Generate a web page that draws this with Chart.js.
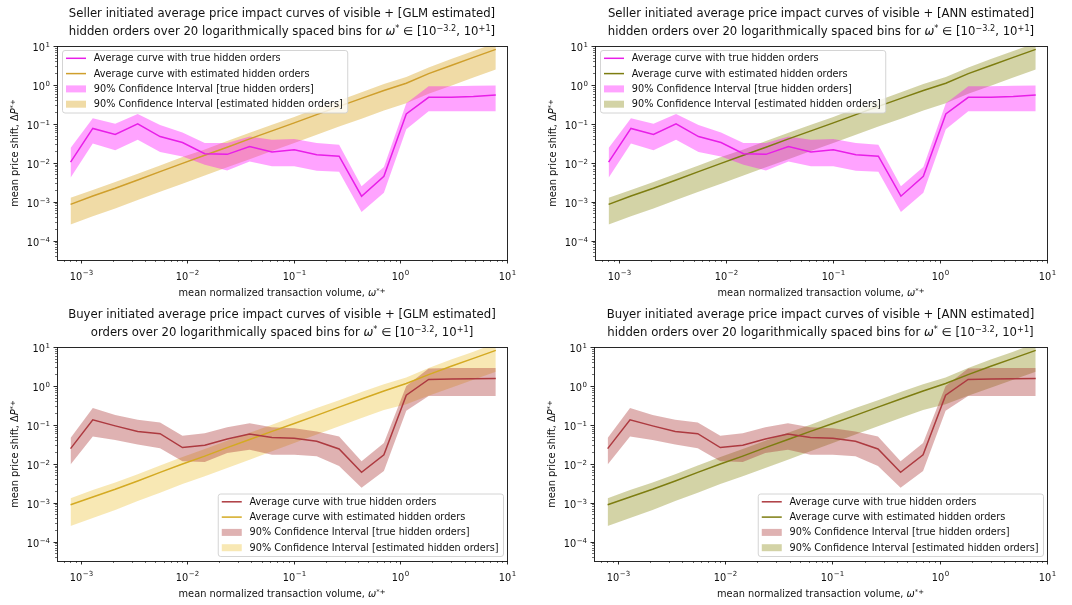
<!DOCTYPE html>
<html>
<head>
<meta charset="utf-8">
<script src="https://cdn.jsdelivr.net/npm/chart.js@4/dist/chart.umd.min.js"></script>
<style>
  body { margin: 0; background: #fff; }
  #fig { position: relative; width: 1072px; height: 605px; overflow: hidden; font-family: "DejaVu Sans", sans-serif; color: #111; }
  canvas { position: absolute; }
  .title { position: absolute; text-align: center; font-size: 11.7px; line-height: 18px; white-space: nowrap; }
  .xlab, .ylab { position: absolute; text-align: center; font-size: 9.8px; line-height: 14px; white-space: nowrap; }
  .ylab { transform: rotate(-90deg); }
  sup { font-size: 0.7em; vertical-align: 0.5em; line-height: 0; }
</style>
</head>
<body>
<div id="fig"></div>
<script>
// ================= DATA =================
// bin centres (20 log spaced bins on [10^-3.2, 10^1])
const binCenters = [0.000804, 0.0013, 0.00211, 0.00343, 0.00556, 0.00902, 0.0146, 0.0237, 0.0385, 0.0624,
                    0.101, 0.164, 0.266, 0.432, 0.70, 1.135, 1.84, 2.99, 4.84, 7.85];

// seller initiated
const sellerTrue      = [0.0104, 0.076, 0.053, 0.10, 0.047, 0.033, 0.017, 0.0164, 0.026, 0.019,
                         0.0216, 0.016, 0.0147, 0.00138, 0.0045, 0.18, 0.48, 0.48, 0.50, 0.55];
const sellerTrueUpper = [0.024, 0.14, 0.10, 0.18, 0.093, 0.06, 0.032, 0.032, 0.047, 0.039,
                         0.041, 0.032, 0.029, 0.0025, 0.0078, 0.34, 0.92, 0.93, 0.95, 0.97];
const sellerTrueLower = [0.0041, 0.031, 0.021, 0.039, 0.019, 0.0145, 0.0089, 0.0063, 0.0107, 0.0081,
                         0.0081, 0.0062, 0.0059, 0.00054, 0.0017, 0.072, 0.21, 0.21, 0.21, 0.21];
const sellerEst       = [0.00085, 0.0014, 0.0022, 0.0036, 0.0059, 0.0096, 0.0155, 0.025, 0.041, 0.066,
                         0.106, 0.172, 0.28, 0.45, 0.72, 1.1, 1.95, 3.15, 5.1, 8.2];
const sellerEstUpper  = [0.00125, 0.002, 0.0032, 0.0052, 0.0085, 0.014, 0.022, 0.036, 0.059, 0.095,
                         0.15, 0.25, 0.40, 0.65, 1.05, 1.6, 2.8, 4.6, 7.4, 12];
const sellerEstLower  = [0.00026, 0.00042, 0.00067, 0.0011, 0.0018, 0.0029, 0.0047, 0.0076, 0.0123, 0.02,
                         0.032, 0.052, 0.085, 0.135, 0.22, 0.34, 0.59, 0.95, 1.55, 2.5];

// buyer initiated
const buyerTrue       = [0.0244, 0.134, 0.094, 0.067, 0.059, 0.026, 0.030, 0.043, 0.058, 0.047,
                         0.045, 0.0376, 0.024, 0.006, 0.017, 0.58, 1.47, 1.50, 1.52, 1.55];
const buyerTrueUpper  = [0.046, 0.27, 0.18, 0.134, 0.115, 0.052, 0.061, 0.087, 0.11, 0.087,
                         0.082, 0.067, 0.05, 0.0115, 0.034, 1.0, 2.8, 2.9, 2.9, 2.9];
const buyerTrueLower  = [0.0095, 0.05, 0.041, 0.031, 0.025, 0.0115, 0.011, 0.019, 0.023, 0.017,
                         0.017, 0.0155, 0.0087, 0.0024, 0.0065, 0.23, 0.55, 0.55, 0.55, 0.55];
const buyerEst        = [0.00088, 0.0014, 0.0022, 0.0036, 0.006, 0.0098, 0.0157, 0.026, 0.042, 0.068,
                         0.108, 0.175, 0.285, 0.46, 0.74, 1.15, 1.95, 3.2, 5.1, 8.2];
const buyerEstUpper   = [0.0013, 0.0021, 0.0033, 0.0054, 0.009, 0.015, 0.024, 0.039, 0.063, 0.10,
                         0.165, 0.27, 0.43, 0.7, 1.1, 1.65, 2.9, 4.8, 7.6, 12.5];
const buyerEstLower   = [0.00025, 0.0004, 0.00065, 0.0011, 0.0018, 0.003, 0.0048, 0.0078, 0.0127, 0.021,
                         0.034, 0.056, 0.092, 0.15, 0.24, 0.34, 0.56, 0.9, 1.45, 2.3];

const legendLabels = [
  "Average curve with true hidden orders",
  "Average curve with estimated hidden orders",
  "90% Confidence Interval [true hidden orders]",
  "90% Confidence Interval [estimated hidden orders]"
];

// ================= PANELS =================
const omegaRange = 'for <i>ω</i><sup>*</sup> ∈ [10<sup>−3.2</sup>, 10<sup>+1</sup>]';
const panels = [
  { l: 57, t: 46, r: 507, b: 260, corner: 'tl',
    title: ['Seller initiated average price impact curves of visible + [GLM estimated]',
            'hidden orders over 20 logarithmically spaced bins ' + omegaRange],
    tr: sellerTrue, trU: sellerTrueUpper, trL: sellerTrueLower,
    es: sellerEst, esU: sellerEstUpper, esL: sellerEstLower,
    trColor: '#e81ee8', trFill: 'rgba(255,0,255,0.36)',
    esColor: '#cf9f2c', esFill: 'rgba(218,165,32,0.4)' },
  { l: 595, t: 46, r: 1047, b: 260, corner: 'tl',
    title: ['Seller initiated average price impact curves of visible + [ANN estimated]',
            'hidden orders over 20 logarithmically spaced bins ' + omegaRange],
    tr: sellerTrue, trU: sellerTrueUpper, trL: sellerTrueLower,
    es: sellerEst, esU: sellerEstUpper, esL: sellerEstLower,
    trColor: '#e81ee8', trFill: 'rgba(255,0,255,0.36)',
    esColor: '#7d7d10', esFill: 'rgba(128,128,0,0.35)' },
  { l: 57, t: 347, r: 507, b: 561, corner: 'br',
    title: ['Buyer initiated average price impact curves of visible + [GLM estimated]',
            'orders over 20 logarithmically spaced bins ' + omegaRange],
    tr: buyerTrue, trU: buyerTrueUpper, trL: buyerTrueLower,
    es: buyerEst, esU: buyerEstUpper, esL: buyerEstLower,
    trColor: '#ad3a40', trFill: 'rgba(165,42,42,0.36)',
    esColor: '#d4aa22', esFill: 'rgba(235,190,40,0.35)' },
  { l: 594, t: 347, r: 1047, b: 561, corner: 'br',
    title: ['Buyer initiated average price impact curves of visible + [ANN estimated]',
            'hidden orders over 20 logarithmically spaced bins ' + omegaRange],
    tr: buyerTrue, trU: buyerTrueUpper, trL: buyerTrueLower,
    es: buyerEst, esU: buyerEstUpper, esL: buyerEstLower,
    trColor: '#ad3a40', trFill: 'rgba(165,42,42,0.36)',
    esColor: '#7d7d10', esFill: 'rgba(128,128,0,0.35)' }
];

// ================= HELPERS =================
function isPow10(v) {
  const e = Math.log10(v);
  return Math.abs(e - Math.round(e)) < 1e-9;
}
function logTicks(min, max) {
  const out = [];
  for (let e = -6; e <= 2; e++) {
    for (let m = 1; m <= 9; m++) {
      const v = parseFloat((m * Math.pow(10, e)).toPrecision(6));
      if (v >= min * 0.9999 && v <= max * 1.0001) out.push({ value: v });
    }
  }
  return out;
}
function pts(ys) {
  return binCenters.map((x, i) => ({ x: x, y: ys[i] }));
}

// "10" + raised exponent, like matplotlib mathtext
const BASE_FONT = '9.8px "DejaVu Sans"';
const EXP_FONT = '7px "DejaVu Sans"';
function powText(ctx, v, x, y, align) {
  const exp = String(Math.round(Math.log10(v))).replace('-', '−');
  ctx.font = BASE_FONT;
  const wb = ctx.measureText('10').width;
  ctx.font = EXP_FONT;
  const we = ctx.measureText(exp).width;
  const w = wb + we + 0.5;
  let x0 = align === 'center' ? x - w / 2 : x - w;
  ctx.textAlign = 'left';
  ctx.textBaseline = 'alphabetic';
  ctx.font = BASE_FONT;
  ctx.fillText('10', x0, y);
  ctx.font = EXP_FONT;
  ctx.fillText(exp, x0 + wb + 0.5, y - 4.6);
}

// ================= PLUGINS =================
const frameTicks = {
  id: 'frameTicks',
  afterDatasetsDraw(chart) {
    const { ctx, chartArea: a, scales } = chart;
    ctx.save();
    ctx.strokeStyle = '#111';
    ctx.fillStyle = '#111';
    scales.x.ticks.forEach(t => {
      const px = Math.round(scales.x.getPixelForValue(t.value)) + 0.5;
      const major = isPow10(t.value);
      ctx.lineWidth = major ? 0.9 : 0.6;
      ctx.beginPath();
      ctx.moveTo(px, a.bottom);
      ctx.lineTo(px, a.bottom + (major ? 3.5 : 2));
      ctx.stroke();
      if (major) powText(ctx, t.value, px, a.bottom + 19.5, 'center');
    });
    scales.y.ticks.forEach(t => {
      const py = Math.round(scales.y.getPixelForValue(t.value)) + 0.5;
      const major = isPow10(t.value);
      ctx.lineWidth = major ? 0.9 : 0.6;
      ctx.beginPath();
      ctx.moveTo(a.left, py);
      ctx.lineTo(a.left - (major ? 3.5 : 2), py);
      ctx.stroke();
      if (major) powText(ctx, t.value, a.left - 7, py + 4.8, 'right');
    });
    ctx.lineWidth = 0.9;
    ctx.strokeRect(Math.round(a.left) + 0.5, Math.round(a.top) + 0.5,
                   Math.round(a.right - a.left), Math.round(a.bottom - a.top));
    ctx.restore();
  }
};

const boxLegend = {
  id: 'boxLegend',
  afterDraw(chart, args, opts) {
    const { ctx, chartArea: a } = chart;
    const fs = 9.7, rowH = 15.3, pad = 8.3;
    const items = chart.data.datasets.filter(d => d.label);
    ctx.save();
    ctx.font = fs + 'px "DejaVu Sans"';
    const textW = Math.max(...items.map(d => ctx.measureText(d.label).width));
    const w = 4 + 20 + 7.8 + textW + 4.5;
    const h = pad * 2 + (items.length - 1) * rowH;
    let x0, y0;
    if (opts.corner === 'tl') { x0 = a.left + 5; y0 = a.top + 4; }
    else { x0 = a.right - 4 - w; y0 = a.bottom - 5 - h; }
    ctx.beginPath();
    ctx.roundRect(x0 + 0.5, y0 + 0.5, w, h, 2.5);
    ctx.fillStyle = 'rgba(255,255,255,0.8)';
    ctx.fill();
    ctx.strokeStyle = '#cfcfcf';
    ctx.lineWidth = 0.9;
    ctx.stroke();
    items.forEach((d, i) => {
      const cy = y0 + pad + i * rowH;
      if (d.fill) {
        ctx.fillStyle = d.backgroundColor;
        ctx.fillRect(x0 + 4, cy - 3.5, 20, 7);
      } else {
        ctx.strokeStyle = d.borderColor;
        ctx.lineWidth = 1.5;
        ctx.beginPath();
        ctx.moveTo(x0 + 4, cy);
        ctx.lineTo(x0 + 24, cy);
        ctx.stroke();
      }
      ctx.fillStyle = '#111';
      ctx.textBaseline = 'middle';
      ctx.fillText(d.label, x0 + 31.8, cy + 0.5);
    });
    ctx.restore();
  }
};

// ================= BUILD =================
const fig = document.getElementById('fig');
const X_MIN = Math.pow(10, -3.2), X_MAX = 10;
const Y_MIN = Math.pow(10, -4.5), Y_MAX = 10;

panels.forEach((p, k) => {
  const padL = 4, padT = 8, padR = 12, padB = 4, yW = 50, xH = 24;
  const cv = document.createElement('canvas');
  const cw = (p.r - p.l) + padL + yW + padR;
  const ch = (p.b - p.t) + padT + xH + padB;
  cv.width = cw; cv.height = ch;
  cv.style.left = (p.l - padL - yW) + 'px';
  cv.style.top = (p.t - padT) + 'px';
  cv.style.width = cw + 'px'; cv.style.height = ch + 'px';
  fig.appendChild(cv);

  const title = document.createElement('div');
  title.className = 'title';
  title.style.left = (p.l - 40) + 'px';
  title.style.width = (p.r - p.l + 80) + 'px';
  title.style.top = (p.t - 42) + 'px';
  title.innerHTML = p.title.join('<br>');
  fig.appendChild(title);

  const xl = document.createElement('div');
  xl.className = 'xlab';
  xl.style.left = p.l + 'px';
  xl.style.width = (p.r - p.l) + 'px';
  xl.style.top = (p.b + 25.5) + 'px';
  xl.innerHTML = 'mean normalized transaction volume, <i>ω</i><sup>*+</sup>';
  fig.appendChild(xl);

  const yl = document.createElement('div');
  yl.className = 'ylab';
  const yw = p.b - p.t;
  yl.style.width = yw + 'px';
  yl.style.height = '14px';
  yl.style.left = (p.l - 42 - yw / 2) + 'px';
  yl.style.top = ((p.t + p.b) / 2 - 7) + 'px';
  yl.innerHTML = 'mean price shift, Δ<i>P</i><sup>*+</sup>';
  fig.appendChild(yl);

  const line = (label, ys, color) => ({
    label: label, data: pts(ys), borderColor: color, borderWidth: 1.5,
    pointRadius: 0, fill: false, tension: 0
  });
  const band = (label, ys, color, fill) => ({
    label: label, data: pts(ys), borderWidth: 0, borderColor: 'rgba(0,0,0,0)',
    backgroundColor: color, pointRadius: 0, fill: fill, tension: 0
  });

  new Chart(cv.getContext('2d'), {
    type: 'line',
    data: {
      datasets: [
        line(legendLabels[0], p.tr, p.trColor),
        line(legendLabels[1], p.es, p.esColor),
        band(legendLabels[2], p.trU, p.trFill, '+1'),
        band('', p.trL, p.trFill, false),
        band(legendLabels[3], p.esU, p.esFill, '+1'),
        band('', p.esL, p.esFill, false)
      ]
    },
    options: {
      responsive: false,
      animation: false,
      devicePixelRatio: 1,
      layout: { padding: { left: padL, top: padT, right: padR, bottom: padB } },
      plugins: { legend: { display: false }, tooltip: { enabled: false }, boxLegend: { corner: p.corner } },
      scales: {
        x: {
          type: 'logarithmic', min: X_MIN, max: X_MAX,
          afterBuildTicks: s => { s.ticks = logTicks(X_MIN, X_MAX); },
          afterFit: s => { s.height = xH; },
          grid: { display: false, drawTicks: false },
          border: { display: false },
          ticks: { display: false, autoSkip: false }
        },
        y: {
          type: 'logarithmic', min: Y_MIN, max: Y_MAX,
          afterBuildTicks: s => { s.ticks = logTicks(Y_MIN, Y_MAX); },
          afterFit: s => { s.width = yW; },
          grid: { display: false, drawTicks: false },
          border: { display: false },
          ticks: { display: false, autoSkip: false }
        }
      }
    },
    plugins: [frameTicks, boxLegend]
  });
});
</script>
</body>
</html>
